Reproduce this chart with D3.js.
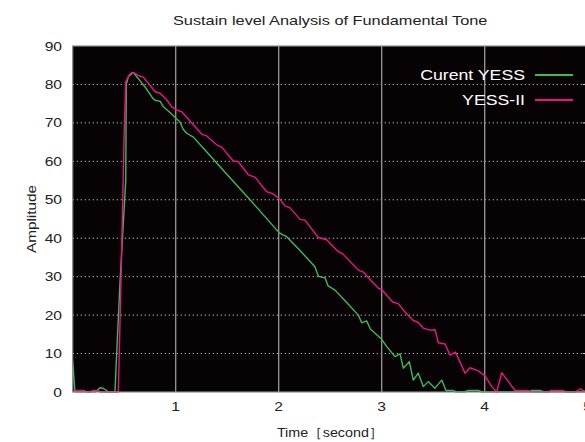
<!DOCTYPE html>
<html>
<head>
<meta charset="utf-8">
<script src="https://cdn.jsdelivr.net/npm/d3@7"></script>
<style>
  body { margin: 0; background: #fff; }
  text { font-family: "Liberation Sans", Arial, sans-serif; }
</style>
</head>
<body>
<svg id="chart" width="585" height="442"></svg>
<script>
// Sustain level of the fundamental tone, two synth versions
const xTicks = [1, 2, 3, 4, 5];
const yTicks = [0, 10, 20, 30, 40, 50, 60, 70, 80, 90];

// [time (s), amplitude]
const currentYess = [
  [0, 8], [0.022, 0], [0.19, 0], [0.22, 0], [0.265, 1.1], [0.30, 0.9], [0.35, 0], [0.41, 0],
  [0.46, 29], [0.515, 55], [0.52, 80], [0.54, 82], [0.588, 83.1], [0.653, 81.0], [0.712, 79.0],
  [0.78, 76.3], [0.80, 75.9], [0.85, 75.6], [0.88, 74.2], [0.945, 72.7], [1.01, 71.0],
  [1.04, 70.3], [1.074, 68.3], [1.107, 67.3], [1.171, 66.3], [1.3, 62.5], [1.45, 58.0],
  [1.6, 53.6], [1.728, 49.8], [2.006, 41.4], [2.04, 40.9], [2.078, 40.4], [2.2, 37.0],
  [2.352, 32.6], [2.385, 30.1], [2.45, 29.7], [2.48, 27.6], [2.547, 26.5], [2.66, 23.3],
  [2.773, 20.0], [2.806, 18.0], [2.854, 18.5], [2.89, 16.4], [3.0, 13.7], [3.049, 11.8],
  [3.129, 9.2], [3.178, 9.9], [3.21, 6.2], [3.268, 7.9], [3.307, 3.1], [3.355, 4.9],
  [3.404, 1.4], [3.452, 2.7], [3.517, 1.0], [3.583, 3.1], [3.624, 0.4], [3.69, 0.4],
  [3.72, 0], [3.81, 0], [3.84, 0.4], [3.94, 0.4], [3.97, 0], [4.43, 0], [4.46, 0.4],
  [4.54, 0.4], [4.57, 0], [5, 0]
];

const yessII = [
  [0, 0], [0.02, 0.4], [0.11, 0.4], [0.14, 0], [0.17, 0], [0.19, 0.4], [0.24, 0.4], [0.27, 0],
  [0.443, 0], [0.469, 29], [0.498, 65.5], [0.515, 80.7], [0.55, 82.5], [0.573, 83.1],
  [0.605, 82.9], [0.647, 82.2], [0.685, 81.9], [0.734, 80.3], [0.80, 78.1], [0.848, 77.7],
  [0.913, 76.0], [0.961, 74.2], [1.01, 73.3], [1.058, 72.9], [1.252, 67.1], [1.301, 66.6],
  [1.398, 64.3], [1.447, 63.7], [1.559, 60.1], [1.608, 59.9], [1.705, 56.5], [1.77, 55.9],
  [1.883, 52.1], [1.948, 51.5], [2.013, 50.1], [2.061, 48.4], [2.11, 47.9], [2.207, 44.9],
  [2.255, 44.7], [2.384, 40.2], [2.466, 39.6], [2.571, 36.7], [2.627, 35.8], [2.773, 31.7],
  [2.821, 31.2], [2.967, 27.0], [3.003, 26.6], [3.105, 23.4], [3.161, 23.0], [3.226, 20.8],
  [3.307, 18.6], [3.355, 18.1], [3.404, 16.6], [3.469, 16.1], [3.518, 16.2], [3.55, 12.8],
  [3.615, 12.5], [3.663, 9.6], [3.716, 10.4], [3.809, 4.9], [3.857, 6.3], [3.938, 5.5],
  [4.003, 4.2], [4.068, 1.4], [4.117, 0], [4.165, 5.0], [4.219, 3.1], [4.294, 0.4],
  [4.42, 0.4], [4.45, 0], [4.62, 0], [4.64, 0.4], [4.76, 0.4], [4.79, 0], [4.88, 0],
  [4.93, 0.8], [4.96, 0.3], [5, 0.3]
];

const seriesNames = ['Curent YESS', 'YESS-II'];
const seriesColors = ['#3dba5a', '#ee1289'];

const svg = d3.select('#chart');
const plotLeft = 72.7, plotRight = 587.7, plotTop = 46, plotBottom = 392;

const x = d3.scaleLinear().domain([0, 5]).range([plotLeft, plotRight]);
const y = d3.scaleLinear().domain([0, 90]).range([plotBottom, plotTop]);

// the original font is wider than Liberation Sans, so stretch text along its baseline
function label(g, tx, ty, str, opts) {
  const rot = opts.rotate || 0;
  return g.append('text')
    .attr('transform', `translate(${tx},${ty}) rotate(${rot}) scale(${opts.stretch || 1.2},1)`)
    .attr('dy', '0.35em')
    .attr('text-anchor', opts.anchor || 'middle')
    .style('font-size', opts.size + 'px')
    .style('fill', opts.fill || '#222')
    .text(str);
}

// plot background
svg.append('rect')
  .attr('x', plotLeft).attr('y', plotTop)
  .attr('width', plotRight - plotLeft).attr('height', plotBottom - plotTop)
  .attr('fill', '#070304');

// horizontal dotted grid
svg.append('g')
  .selectAll('line')
  .data(yTicks.filter(d => d > 0 && d < 90))
  .enter()
  .append('line')
  .attr('x1', plotLeft).attr('x2', plotRight)
  .attr('y1', d => y(d)).attr('y2', d => y(d))
  .attr('stroke', '#b8b8b8')
  .attr('stroke-width', 1)
  .attr('stroke-dasharray', '1.3,2.7');

// vertical solid grid
svg.append('g')
  .selectAll('line')
  .data(xTicks.filter(d => d < 5))
  .enter()
  .append('line')
  .attr('x1', d => x(d)).attr('x2', d => x(d))
  .attr('y1', plotTop).attr('y2', plotBottom)
  .attr('stroke', '#9a9a9a')
  .attr('stroke-width', 1.3);

// right side inward ticks
svg.append('g')
  .selectAll('line')
  .data(yTicks.filter(d => d > 0 && d < 90))
  .enter()
  .append('line')
  .attr('x1', plotRight - 5).attr('x2', plotRight)
  .attr('y1', d => y(d)).attr('y2', d => y(d))
  .attr('stroke', '#cfcfcf')
  .attr('stroke-width', 1);

const line = d3.line()
  .x(d => x(d[0]))
  .y(d => y(d[1]));

[currentYess, yessII].forEach((data, i) => {
  svg.append('path')
    .datum(data)
    .attr('d', line)
    .attr('fill', 'none')
    .attr('stroke', seriesColors[i])
    .attr('stroke-width', 1.4)
    .attr('stroke-linejoin', 'round');
});

// border
svg.append('rect')
  .attr('x', plotLeft).attr('y', plotTop)
  .attr('width', plotRight - plotLeft).attr('height', plotBottom - plotTop)
  .attr('fill', 'none')
  .attr('stroke', '#8c8c8c')
  .attr('stroke-width', 1.2);

// tick labels
const yLab = svg.append('g');
yTicks.forEach(d => label(yLab, 62, y(d), d, { size: 13, anchor: 'end', stretch: 1.2 }));

const xLab = svg.append('g');
xTicks.forEach(d => label(xLab, x(d), 406, d, { size: 13, stretch: 1.2 }));

// titles
label(svg, (plotLeft + plotRight) / 2, 20, 'Sustain level Analysis of Fundamental Tone',
  { size: 13.5, stretch: 1.21 });
label(svg, 31, (plotTop + plotBottom) / 2, 'Amplitude', { size: 13, rotate: -90, stretch: 1.18 });
label(svg, (plotLeft + plotRight) / 2, 432, 'Time［second］', { size: 13, stretch: 1.1 });

// legend
const legend = svg.append('g');
seriesNames.forEach((name, i) => {
  const ly = 75 + i * 25;
  label(legend, 525, ly, name, { size: 15, anchor: 'end', fill: '#fff', stretch: 1.18 });
  legend.append('line')
    .attr('x1', 535).attr('x2', 573)
    .attr('y1', ly).attr('y2', ly)
    .attr('stroke', seriesColors[i])
    .attr('stroke-width', 1.8);
});
</script>
</body>
</html>
